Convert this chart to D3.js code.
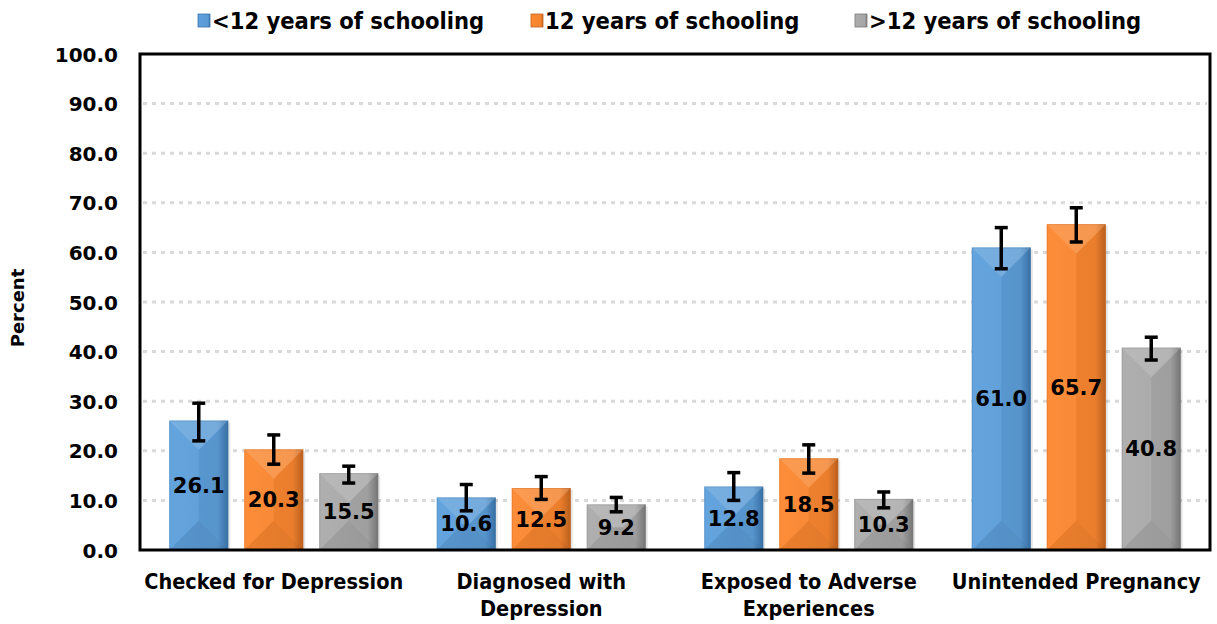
<!DOCTYPE html>
<html>
<head>
<meta charset="utf-8">
<script src="https://cdn.jsdelivr.net/npm/d3@7"></script>
<style>
  body { margin: 0; background: #fff; }
  text { font-family: "DejaVu Sans Condensed", "DejaVu Sans", sans-serif; font-weight: bold; fill: #000; }
</style>
</head>
<body>
<div id="graph"></div>
<script>
// data
const categories = [["Checked for Depression"], ["Diagnosed with", "Depression"], ["Exposed to Adverse", "Experiences"], ["Unintended Pregnancy"]];
const seriesNames = ["<12 years of schooling", "12 years of schooling", ">12 years of schooling"];
const lessThan12 = [26.1, 10.6, 12.8, 61.0];
const exactly12 = [20.3, 12.5, 18.5, 65.7];
const moreThan12 = [15.5, 9.2, 10.3, 40.8];
const lowCI = [[22.0, 7.9, 10.0, 56.7], [17.3, 10.2, 15.5, 62.1], [13.5, 7.7, 8.5, 38.3]];
const highCI = [[29.6, 13.2, 15.6, 65.0], [23.2, 14.8, 21.2, 69.0], [16.9, 10.6, 11.7, 42.9]];
const yTicks = [0, 10, 20, 30, 40, 50, 60, 70, 80, 90, 100];

const values = [lessThan12, exactly12, moreThan12];
const colors = ["#5b9bd5", "#f4842f", "#a6a6a6"];
const darks = ["#3a74aa", "#c2631f", "#7a7a7a"];

const width = 1217, height = 624;
const margin = {top: 54, right: 7, bottom: 74, left: 140};

const svg = d3.select("#graph").append("svg")
  .attr("width", width).attr("height", height);

const defs = svg.append("defs");
colors.forEach((c, i) => {
  const g = defs.append("linearGradient").attr("id", "grad" + i)
    .attr("x1", 0).attr("x2", 1).attr("y1", 0).attr("y2", 0);
  g.append("stop").attr("offset", 0).attr("stop-color", d3.color(c).brighter(0.1));
  g.append("stop").attr("offset", 0.82).attr("stop-color", c);
  g.append("stop").attr("offset", 1).attr("stop-color", darks[i]);
});

const x0 = d3.scaleBand()
  .domain(d3.range(categories.length))
  .range([margin.left, width - margin.right]);

const x1 = d3.scaleBand()
  .domain(d3.range(seriesNames.length))
  .range([-104.5, 104.5])
  .paddingInner(0.213);

const y = d3.scaleLinear()
  .domain([0, 100])
  .range([height - margin.bottom, margin.top]);

// gridlines
svg.append("g")
  .selectAll("line")
  .data(yTicks.filter(d => d > 0 && d < 100))
  .join("line")
    .attr("x1", margin.left + 3).attr("x2", width - margin.right - 3)
    .attr("y1", d => y(d)).attr("y2", d => y(d))
    .attr("stroke", "#d9d9d9").attr("stroke-width", 3)
    .attr("stroke-dasharray", "4,5");

// y axis labels
const yAxis = svg.append("g")
  .attr("transform", `translate(${margin.left - 22},0)`)
  .call(d3.axisLeft(y).tickValues(yTicks).tickFormat(d3.format(".1f")).tickSize(0));
yAxis.select(".domain").remove();
yAxis.selectAll("text")
  .attr("x", 0).attr("dy", "0.35em")
  .style("font-size", "20px")
  .style("font-family", "'DejaVu Sans', sans-serif");

svg.append("text")
  .attr("transform", `translate(24,${(y(0) + y(100)) / 2 + 6}) rotate(-90)`)
  .attr("text-anchor", "middle")
  .style("font-size", "18px")
  .style("font-family", "'DejaVu Sans', sans-serif")
  .text("Percent");

// bars
const groups = svg.append("g").selectAll("g")
  .data(categories.map((c, ci) => seriesNames.map((s, si) => ({ci, si, v: values[si][ci], lo: lowCI[si][ci], hi: highCI[si][ci]}))))
  .join("g")
    .attr("transform", (d, i) => `translate(${x0(i) + x0.bandwidth() / 2},0)`);

groups.each(function(rows) {
  const g = d3.select(this);
  rows.forEach(d => {
    const bx = x1(d.si), bw = x1.bandwidth();
    const by = y(d.v), bh = y(0) - y(d.v);
    const b = Math.min(bw / 2, bh / 2);
    // shadow
    g.append("rect").attr("x", bx + 2).attr("y", by + 2).attr("width", bw).attr("height", bh - 2)
      .attr("fill", "#000").attr("opacity", 0.1);
    g.append("rect").attr("x", bx).attr("y", by).attr("width", bw).attr("height", bh)
      .attr("fill", `url(#grad${d.si})`);
    const faces = [
      {pts: [[bx, by], [bx + bw, by], [bx + bw - b, by + b], [bx + b, by + b]], f: "#fff", o: 0.16},
      {pts: [[bx, by + bh], [bx + bw, by + bh], [bx + bw - b, by + bh - b], [bx + b, by + bh - b]], f: "#000", o: 0.07},
      {pts: [[bx, by], [bx + b, by + b], [bx + b, by + bh - b], [bx, by + bh]], f: "#fff", o: 0.04},
      {pts: [[bx + bw, by], [bx + bw - b, by + b], [bx + bw - b, by + bh - b], [bx + bw, by + bh]], f: "#000", o: 0.04}
    ];
    faces.forEach(p => g.append("polygon")
      .attr("points", p.pts.map(q => q.join(",")).join(" "))
      .attr("fill", p.f).attr("opacity", p.o));
    g.append("rect").attr("x", bx + 0.5).attr("y", by + 0.5).attr("width", bw - 1).attr("height", bh - 1)
      .attr("fill", "none").attr("stroke", darks[d.si]).attr("stroke-opacity", 0.3);

    // error bar
    const cx = bx + bw / 2;
    g.append("line").attr("x1", cx).attr("x2", cx).attr("y1", y(d.hi)).attr("y2", y(d.lo))
      .attr("stroke", "#000").attr("stroke-width", 3.5);
    [d.hi, d.lo].forEach(v => g.append("line")
      .attr("x1", cx - 6.5).attr("x2", cx + 6.5).attr("y1", y(v)).attr("y2", y(v))
      .attr("stroke", "#000").attr("stroke-width", 3.5));

    // value label
    g.append("text").attr("x", cx).attr("y", (by + y(0)) / 2).attr("dy", "0.36em")
      .attr("text-anchor", "middle")
      .style("font-size", "21px")
      .style("font-family", "'DejaVu Sans', sans-serif")
      .text(d3.format(".1f")(d.v));
  });
});

// frame
svg.append("rect")
  .attr("x", margin.left).attr("y", margin.top)
  .attr("width", width - margin.left - margin.right)
  .attr("height", y(0) - margin.top)
  .attr("fill", "none").attr("stroke", "#000").attr("stroke-width", 3);

// category labels
const xLab = svg.append("g").selectAll("text")
  .data(categories)
  .join("text")
    .attr("x", (d, i) => x0(i) + x0.bandwidth() / 2)
    .attr("y", 589)
    .attr("text-anchor", "middle")
    .style("font-size", "21.5px");
xLab.selectAll("tspan")
  .data(d => d)
  .join("tspan")
    .attr("x", function() { return this.parentNode.getAttribute("x"); })
    .attr("dy", (d, i) => i ? 27 : 0)
    .text(d => d);

// legend
const legendX = [198, 531, 855];
const legend = svg.append("g").selectAll("g")
  .data(seriesNames)
  .join("g")
    .attr("transform", (d, i) => `translate(${legendX[i]},0)`);
legend.append("rect").attr("x", 0).attr("y", 14).attr("width", 12).attr("height", 13)
  .attr("fill", (d, i) => `url(#grad${i})`).attr("stroke", (d, i) => darks[i]).attr("stroke-width", 0.8);
legend.append("text").attr("x", 14).attr("y", 29)
  .style("font-size", "23.5px")
  .text(d => d);
</script>
</body>
</html>
